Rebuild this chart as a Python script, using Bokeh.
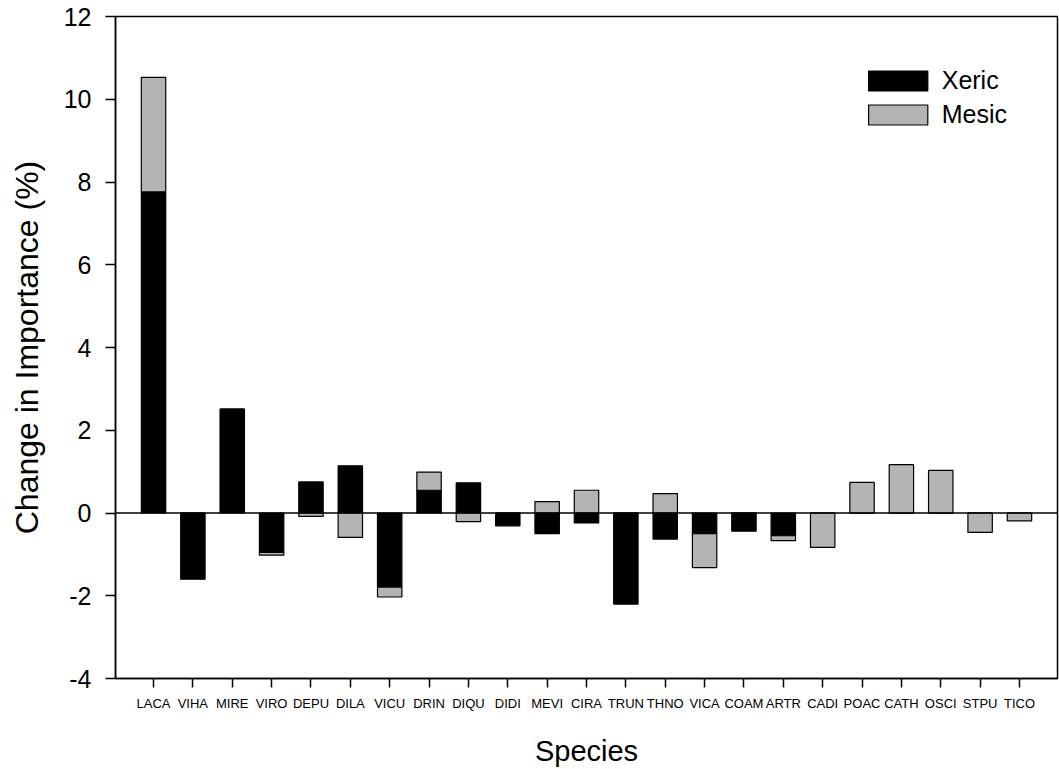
import numpy as np
from bokeh.plotting import figure
from bokeh.models import FactorRange, Range1d, FixedTicker, Span, ColumnDataSource, PrintfTickFormatter
from bokeh.embed import file_html
from bokeh.resources import INLINE

species = ["LACA", "VIHA", "MIRE", "VIRO", "DEPU", "DILA", "VICU", "DRIN", "DIQU", "DIDI",
           "MEVI", "CIRA", "TRUN", "THNO", "VICA", "COAM", "ARTR", "CADI", "POAC", "CATH",
           "OSCI", "STPU", "TICO"]
xeric = [7.76, -1.60, 2.51, -0.95, 0.75, 1.14, -1.79, 0.55, 0.73, -0.31,
         -0.50, -0.24, -2.20, -0.63, -0.50, -0.44, -0.55, 0.0, 0.0, 0.0,
         0.0, 0.0, 0.0]
mesic = [2.77, 0.0, 0.0, -0.07, -0.08, -0.59, -0.24, 0.44, -0.21, 0.0,
         0.275, 0.55, 0.0, 0.47, -0.82, 0.0, -0.12, -0.83, 0.74, 1.17,
         1.03, -0.47, -0.19]
y_ticks = [-4, -2, 0, 2, 4, 6, 8, 10, 12]

FONT = "Liberation Sans"
GREY = "#b4b4b4"

xa = np.array(xeric)
ma = np.array(mesic)
m_base = np.where(ma >= 0, np.maximum(xa, 0), np.minimum(xa, 0))
m_top = m_base + ma

src_x = ColumnDataSource(dict(sp=species, bottom=np.zeros(len(species)), top=xa))
src_m = ColumnDataSource(dict(sp=species, bottom=m_base, top=m_top))

p = figure(width=1059, height=769,
           x_range=FactorRange(*species, range_padding=0.466, range_padding_units="absolute"),
           y_range=Range1d(-4, 12),
           output_backend="svg", toolbar_location=None,
           min_border_left=115, min_border_right=2, min_border_top=16, min_border_bottom=89)

p.vbar(x="sp", bottom="bottom", top="top", width=0.62, source=src_x,
       fill_color="black", line_color="black", line_width=1.2, legend_label="Xeric")
p.vbar(x="sp", bottom="bottom", top="top", width=0.62, source=src_m,
       fill_color=GREY, line_color="black", line_width=1.2, legend_label="Mesic")

p.add_layout(Span(location=0, dimension="width", line_color="black", line_width=1.5))

p.xgrid.visible = False
p.ygrid.visible = False
p.outline_line_color = "black"
p.outline_line_width = 1.5
p.background_fill_color = "white"
p.border_fill_color = "white"

# y axis
ya = p.yaxis[0]
ya.ticker = FixedTicker(ticks=y_ticks)
ya.formatter = PrintfTickFormatter(format="%d")
ya.minor_tick_line_color = None
ya.major_tick_out = 10
ya.major_tick_in = 0
ya.major_tick_line_width = 1.5
ya.axis_line_width = 1.5
ya.axis_line_color = "black"
ya.major_label_text_font = FONT
ya.major_label_text_font_size = "25px"
ya.major_label_text_color = "black"
ya.major_label_standoff = 14
ya.axis_label = "Change in Importance (%)"
ya.axis_label_text_font = FONT
ya.axis_label_text_font_size = "32px"
ya.axis_label_text_font_style = "normal"
ya.axis_label_text_color = "black"
ya.axis_label_standoff = 16

# x axis
xax = p.xaxis[0]
xax.major_tick_out = 9
xax.major_tick_in = 0
xax.major_tick_line_width = 1.5
xax.axis_line_width = 1.5
xax.axis_line_color = "black"
xax.major_label_text_font = FONT
xax.major_label_text_font_size = "13px"
xax.major_label_text_color = "black"
xax.major_label_standoff = 8
xax.axis_label = "Species"
xax.axis_label_text_font = FONT
xax.axis_label_text_font_size = "29px"
xax.axis_label_text_font_style = "normal"
xax.axis_label_text_color = "black"
xax.axis_label_standoff = 21

lg = p.legend[0]
lg.location = "top_right"
lg.margin = 50
lg.padding = 0
lg.spacing = 5
lg.glyph_width = 74
lg.glyph_height = 25
lg.label_standoff = 7
lg.label_text_font = FONT
lg.label_text_font_size = "25px"
lg.label_text_color = "black"
lg.background_fill_alpha = 0
lg.border_line_color = None

open("out.html", "w").write(file_html(p, INLINE))
